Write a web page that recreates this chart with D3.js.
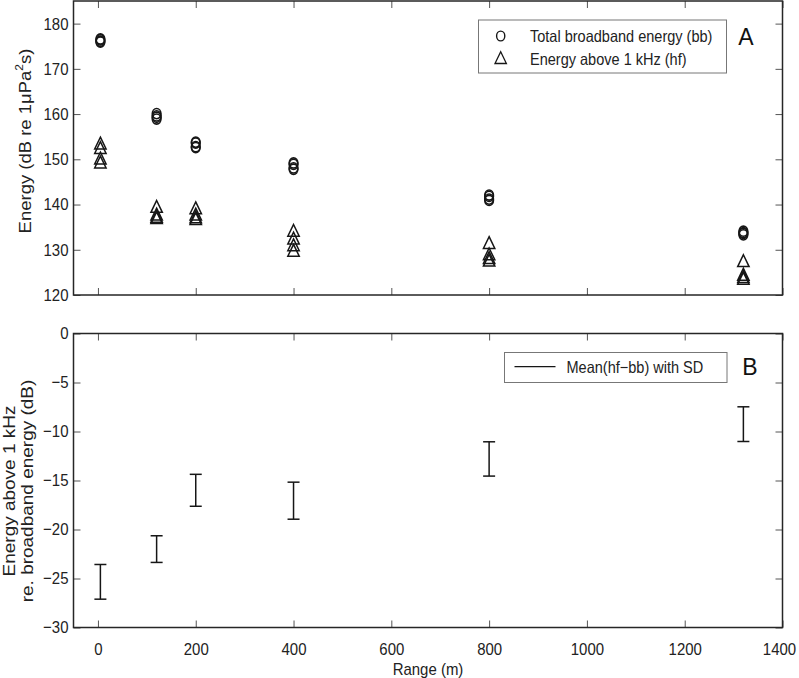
<!DOCTYPE html>
<html>
<head>
<meta charset="utf-8">
<script src="https://cdn.jsdelivr.net/npm/d3@7"></script>
<style>
  html, body { margin: 0; padding: 0; background: #fff; }
  svg { display: block; font-family: "Liberation Sans", Arial, Helvetica, sans-serif; }
</style>
</head>
<body>
<svg id="chart" width="799" height="678"></svg>
<script>
// ---------- data ----------
const ranges = [5, 120, 200, 400, 800, 1320];           // Range (m)
// Panel A: individual trials per range
const bbEnergy = [                                       // Total broadband energy (bb), dB
  [176.6, 176.4, 176.1, 175.9],
  [160.1, 159.6, 159.3, 158.9],
  [153.8, 153.6, 152.8, 152.6],
  [149.2, 148.9, 148.1, 147.8],
  [142.1, 141.8, 141.2, 140.9],
  [134.1, 133.8, 133.6, 133.3]
];
const hfEnergy = [                                       // Energy above 1 kHz (hf), dB
  [153.5, 152.5, 150.2, 149.3],
  [139.5, 137.8, 137.3, 137.0],
  [139.2, 137.8, 137.2, 136.8],
  [134.2, 132.5, 131.0, 129.8],
  [131.5, 129.0, 128.2, 127.6],
  [127.5, 124.5, 124.0, 123.6]
];
// Panel B: mean(hf-bb) and SD
const meanDiff = [-25.34, -22.0, -16.0, -17.06, -12.8, -9.25];
const sdDiff   = [1.77, 1.36, 1.63, 1.89, 1.75, 1.77];

const xTicks  = [0, 200, 400, 600, 800, 1000, 1200, 1400];
const yTicksA = [120, 130, 140, 150, 160, 170, 180];
const yTicksB = [-30, -25, -20, -15, -10, -5, 0];

const legendA = ["Total broadband energy (bb)", "Energy above 1 kHz (hf)"];
const legendB = "Mean(hf\u2212bb) with SD";

// ---------- layout ----------
const svg = d3.select("#chart");
const L = 73.5, R = 782.5;
const A = { top: 1, bottom: 295 };
const B = { top: 333.5, bottom: 627.5 };
const K = 0.88;          // horizontal condensing of text seen in the reference
const FS = 17;

const x  = d3.scaleLinear().domain([-50, 1400]).range([L, R]);
const yA = d3.scaleLinear().domain([120, 185]).range([A.bottom, A.top]);
const yB = d3.scaleLinear().domain([-30, 0]).range([B.bottom, B.top]);

function condense(sel, k = K) {
  sel.each(function () {
    const len = this.getComputedTextLength();
    if (len > 0) {
      this.setAttribute("textLength", len * k);
      this.setAttribute("lengthAdjust", "spacingAndGlyphs");
    }
  });
}

function styleAxis(g) {
  g.select(".domain").remove();
  g.selectAll(".tick line").attr("stroke", "#555").attr("stroke-width", 1);
  g.selectAll(".tick text").attr("fill", "#222").style("font-size", FS + "px");
}

function panel(P, y, yTicks, showX) {
  const g = svg.append("g");
  const tl = 7;
  g.append("g").attr("transform", `translate(${L},0)`)
    .call(d3.axisLeft(y).tickValues(yTicks).tickSize(-tl).tickPadding(5).tickFormat(d3.format("d")))
    .call(styleAxis);
  g.append("g").attr("transform", `translate(${R},0)`)
    .call(d3.axisRight(y).tickValues(yTicks).tickSize(-tl).tickFormat(""))
    .call(styleAxis);
  g.append("g").attr("transform", `translate(0,${P.top})`)
    .call(d3.axisTop(x).tickValues(xTicks).tickSize(-tl).tickFormat(""))
    .call(styleAxis);
  const bx = g.append("g").attr("transform", `translate(0,${P.bottom})`)
    .call(d3.axisBottom(x).tickValues(xTicks).tickSize(-tl).tickPadding(15)
      .tickFormat(showX ? d3.format("d") : ""))
    .call(styleAxis);
  if (showX) {
    bx.selectAll(".tick text").filter(d => d === 1400).attr("dx", -3.5);
  }
  g.selectAll(".tick text").call(condense);
  g.append("rect").attr("x", L).attr("y", P.top).attr("width", R - L).attr("height", P.bottom - P.top)
    .attr("fill", "none").attr("stroke", "#262626").attr("stroke-width", 1.5);
  return g;
}

panel(A, yA, yTicksA, false);
panel(B, yB, yTicksB, true);

// ---------- markers ----------
const triPath = "M0,-6.3L5.7,5.5L-5.7,5.5Z";
const ink = "#161616";

const gA = svg.append("g");
ranges.forEach((r, i) => {
  hfEnergy[i].forEach(v => {
    gA.append("path").attr("d", triPath)
      .attr("transform", `translate(${x(r)},${yA(v)})`)
      .attr("fill", "none").attr("stroke", ink).attr("stroke-width", 1.5);
  });
  bbEnergy[i].forEach(v => {
    gA.append("ellipse").attr("cx", x(r)).attr("cy", yA(v)).attr("rx", 4.3).attr("ry", 5.1)
      .attr("fill", "none").attr("stroke", ink).attr("stroke-width", 1.6);
  });
});

// ---------- error bars ----------
const gB = svg.append("g").attr("stroke", ink).attr("stroke-width", 1.5).attr("fill", "none");
ranges.forEach((r, i) => {
  const cx = x(r), y1 = yB(meanDiff[i] + sdDiff[i]), y2 = yB(meanDiff[i] - sdDiff[i]);
  gB.append("line").attr("x1", cx).attr("x2", cx).attr("y1", y1).attr("y2", y2);
  gB.append("line").attr("x1", cx - 6).attr("x2", cx + 6).attr("y1", y1).attr("y2", y1);
  gB.append("line").attr("x1", cx - 6).attr("x2", cx + 6).attr("y1", y2).attr("y2", y2);
});

// ---------- legends ----------
svg.append("rect").attr("x", 478.5).attr("y", 20).attr("width", 248).attr("height", 53)
  .attr("fill", "#fff").attr("stroke", "#777").attr("stroke-width", 1);
svg.append("ellipse").attr("cx", 500.7).attr("cy", 36).attr("rx", 4.1).attr("ry", 4.9)
  .attr("fill", "none").attr("stroke", ink).attr("stroke-width", 1.4);
svg.append("path").attr("d", triPath).attr("transform", "translate(500.7,58)")
  .attr("fill", "none").attr("stroke", ink).attr("stroke-width", 1.3);
const legTxtA = svg.append("g").style("font-size", "16.5px").attr("fill", "#222");
legTxtA.append("text").attr("x", 530).attr("y", 42).text(legendA[0]);
legTxtA.append("text").attr("x", 530).attr("y", 65).text(legendA[1]);
legTxtA.selectAll("text").call(condense);

svg.append("rect").attr("x", 504.5).attr("y", 352.5).attr("width", 222.5).attr("height", 30)
  .attr("fill", "#fff").attr("stroke", "#777").attr("stroke-width", 1);
svg.append("line").attr("x1", 514.5).attr("x2", 555.5).attr("y1", 366.7).attr("y2", 366.7)
  .attr("stroke", ink).attr("stroke-width", 1.3);
const legTxtB = svg.append("g").style("font-size", "16.5px").attr("fill", "#222");
legTxtB.append("text").attr("x", 566.5).attr("y", 372.5).text(legendB);
legTxtB.selectAll("text").call(condense);

// panel letters
svg.append("text").attr("x", 746).attr("y", 45).attr("text-anchor", "middle")
  .style("font-size", "23px").attr("fill", "#111").text("A");
svg.append("text").attr("x", 750).attr("y", 374.5).attr("text-anchor", "middle")
  .style("font-size", "23px").attr("fill", "#111").text("B");

// ---------- axis titles ----------
const xt = svg.append("text").attr("x", 428).attr("y", 675).attr("text-anchor", "middle")
  .style("font-size", FS + "px").attr("fill", "#222").text("Range (m)");
xt.call(condense);

const ytA = svg.append("text")
  .attr("transform", `translate(25,141) rotate(-90) scale(1,${K})`)
  .attr("text-anchor", "middle").attr("dominant-baseline", "central")
  .style("font-size", "18.5px").attr("fill", "#222");
ytA.append("tspan").text("Energy (dB re 1\u03bcPa");
ytA.append("tspan").attr("baseline-shift", "super").style("font-size", "12px").text("2");
ytA.append("tspan").text("s)");

const ytB = svg.append("g").attr("transform", `translate(0,491)`);
[["Energy above 1 kHz", 9], ["re. broadband energy (dB)", 27]].forEach(([t, cx]) => {
  ytB.append("text")
    .attr("transform", `translate(${cx},0) rotate(-90) scale(1,${K})`)
    .attr("text-anchor", "middle").attr("dominant-baseline", "central")
    .style("font-size", "19px").attr("fill", "#222").text(t);
});
</script>
</body>
</html>
